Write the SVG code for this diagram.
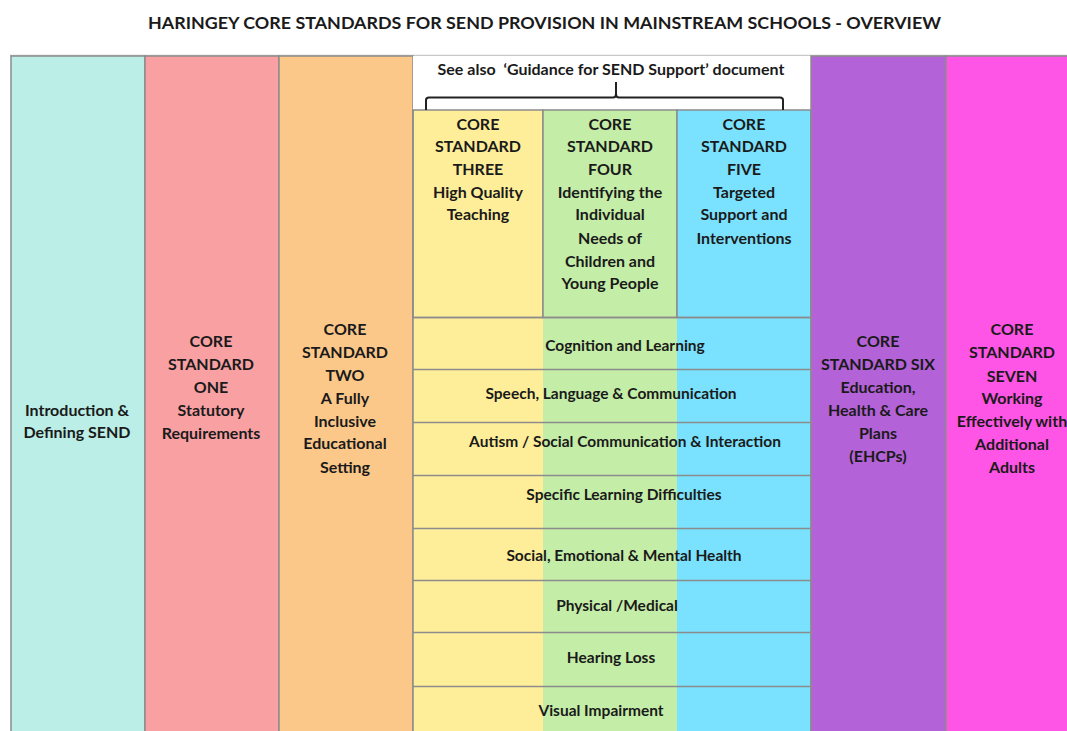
<svg xmlns="http://www.w3.org/2000/svg" width="1067" height="731" viewBox="0 0 1067 731">
<style>
text{font-family:Lato,"Liberation Sans",sans-serif;font-weight:bold;font-size:16px;fill:#1a1a1a;text-anchor:middle}
.title{font-size:17px}
.sm{font-size:15.5px}
.col{stroke:#8c8c8c;stroke-width:1.5}
.row{stroke:#8c8c8c;stroke-width:1.5;fill:none}
</style>
<rect width="1067" height="731" fill="#ffffff"/>
<text class="title" x="544.5" y="29" textLength="793" lengthAdjust="spacingAndGlyphs">HARINGEY CORE STANDARDS FOR SEND PROVISION IN MAINSTREAM SCHOOLS - OVERVIEW</text>
<line x1="10" y1="55.5" x2="1067" y2="55.5" stroke="#c8c8c8" stroke-width="1.5"/>

<g id="intro">
<rect class="col" x="11" y="56" width="134" height="680" fill="#BBEEE6"/>
<text x="77" y="416">Introduction &amp;</text>
<text x="77" y="438">Defining SEND</text>
</g>

<g id="standard-one">
<rect class="col" x="145" y="56" width="134" height="680" fill="#F9A0A3"/>
<text x="211" y="347">CORE</text>
<text x="211" y="370">STANDARD</text>
<text x="211" y="393">ONE</text>
<text x="211" y="416">Statutory</text>
<text x="211" y="439">Requirements</text>
</g>

<g id="standard-two">
<rect class="col" x="279" y="56" width="134" height="680" fill="#FCC88A"/>
<text x="345" y="335">CORE</text>
<text x="345" y="358">STANDARD</text>
<text x="345" y="381">TWO</text>
<text x="345" y="404">A Fully</text>
<text x="345" y="427">Inclusive</text>
<text x="345" y="449">Educational</text>
<text x="345" y="473">Setting</text>
</g>

<g id="guidance">
<rect x="413" y="56" width="398" height="54" fill="#ffffff"/>
<text x="611" y="75" xml:space="preserve">See also  ‘Guidance for SEND Support’ document</text>
</g>

<g id="standard-three">
<rect x="413" y="110" width="130" height="626" fill="#FFEE99"/>
<rect class="col" x="413" y="110" width="130" height="207.5" fill="none"/>
<text x="478" y="130">CORE</text>
<text x="478" y="152">STANDARD</text>
<text x="478" y="175">THREE</text>
<text x="478" y="198">High Quality</text>
<text x="478" y="220">Teaching</text>
</g>

<g id="standard-four">
<rect x="543" y="110" width="134" height="626" fill="#C4EDA7"/>
<rect class="col" x="543" y="110" width="134" height="207.5" fill="none"/>
<text x="610" y="130">CORE</text>
<text x="610" y="152">STANDARD</text>
<text x="610" y="175">FOUR</text>
<text x="610" y="198">Identifying the</text>
<text x="610" y="220">Individual</text>
<text x="610" y="244">Needs of</text>
<text x="610" y="267">Children and</text>
<text x="610" y="289">Young People</text>
</g>

<g id="standard-five">
<rect x="677" y="110" width="134" height="626" fill="#7AE2FF"/>
<rect class="col" x="677" y="110" width="134" height="207.5" fill="none"/>
<text x="744" y="130">CORE</text>
<text x="744" y="152">STANDARD</text>
<text x="744" y="175">FIVE</text>
<text x="744" y="198">Targeted</text>
<text x="744" y="220">Support and</text>
<text x="744" y="244">Interventions</text>
</g>

<g id="needs-rows">
<path class="row" d="M413 317.5H811M413 369.5H811M413 422.5H811M413 475.5H811M413 528.5H811M413 580.5H811M413 632.5H811M413 686.5H811M413 110V731M811 110V731"/>
<text class="sm" x="625" y="351">Cognition and Learning</text>
<text class="sm" x="611" y="399">Speech, Language &amp; Communication</text>
<text class="sm" x="625" y="447">Autism / Social Communication &amp; Interaction</text>
<text class="sm" x="624" y="500">Specific Learning Difficulties</text>
<text class="sm" x="624" y="561">Social, Emotional &amp; Mental Health</text>
<text class="sm" x="617" y="611">Physical /Medical</text>
<text class="sm" x="611" y="663">Hearing Loss</text>
<text class="sm" x="601" y="716">Visual Impairment</text>
</g>

<g id="standard-six">
<rect class="col" x="811" y="56" width="135" height="680" fill="#B462D8"/>
<text x="878" y="347">CORE</text>
<text x="878" y="370">STANDARD SIX</text>
<text x="878" y="393">Education,</text>
<text x="878" y="416">Health &amp; Care</text>
<text x="878" y="439">Plans</text>
<text x="878" y="462">(EHCPs)</text>
</g>

<g id="standard-seven">
<rect class="col" x="946" y="56" width="130" height="680" fill="#FF55E6"/>
<text x="1012" y="335">CORE</text>
<text x="1012" y="358">STANDARD</text>
<text x="1012" y="382">SEVEN</text>
<text x="1012" y="404">Working</text>
<text x="1012" y="427">Effectively with</text>
<text x="1012" y="450">Additional</text>
<text x="1012" y="473">Adults</text>
</g>

<g id="connectors">
<path d="M426 110V100Q426 97.5 429 97.5H613Q616 97.5 616 94V82M616 94Q616 97.5 619 97.5H780Q783 97.5 783 100V110" fill="none" stroke="#222" stroke-width="2"/>
</g>
</svg>
